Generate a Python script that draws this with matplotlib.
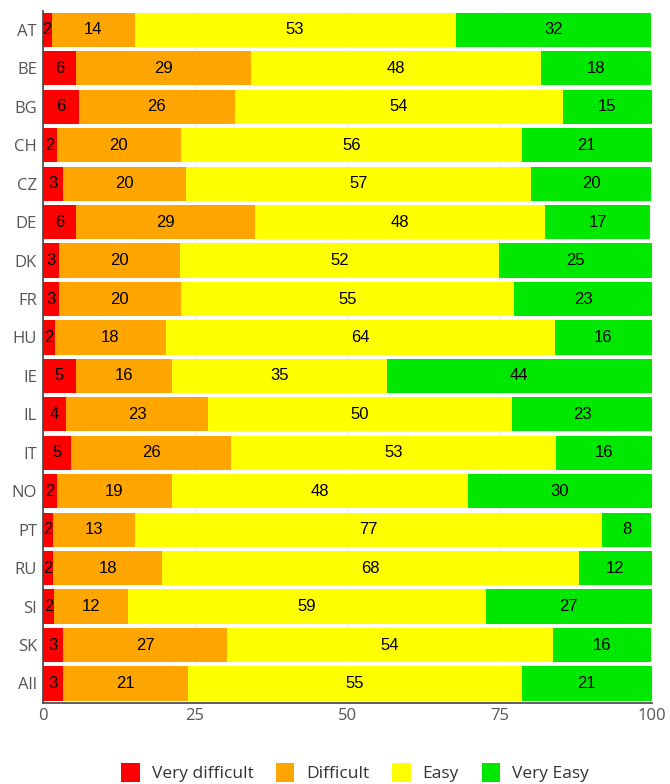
import numpy as np
import matplotlib
matplotlib.use("Agg")
import matplotlib.pyplot as plt
from matplotlib.patches import Patch

countries = ["AT", "BE", "BG", "CH", "CZ", "DE", "DK", "FR", "HU",
             "IE", "IL", "IT", "NO", "PT", "RU", "SI", "SK", "All"]
very_difficult = [1.5, 5.5, 6.0, 2.3, 3.3, 5.5, 2.6, 2.6, 2.0,
                  5.4, 3.9, 4.6, 2.3, 1.7, 1.7, 1.9, 3.4, 3.3]
difficult = [13.6, 28.7, 25.5, 20.4, 20.3, 29.4, 20.0, 20.1, 18.2,
             15.9, 23.2, 26.4, 19.0, 13.4, 17.9, 12.1, 26.9, 20.6]
easy = [52.7, 47.7, 53.9, 56.0, 56.6, 47.6, 52.3, 54.7, 63.9,
        35.2, 50.0, 53.3, 48.5, 76.7, 68.5, 58.8, 53.5, 54.8]
very_easy = [32.1, 18.0, 14.6, 21.3, 19.7, 17.3, 25.1, 22.7, 15.9,
             43.5, 22.9, 15.7, 30.2, 8.1, 11.9, 27.2, 16.1, 21.3]

series = [("Very difficult", very_difficult, "#ff0000"),
          ("Difficult", difficult, "#ffa500"),
          ("Easy", easy, "#ffff00"),
          ("Very Easy", very_easy, "#00e800")]

fig = plt.figure(figsize=(6.7, 7.84), dpi=100)
ax = fig.add_axes([0.0637, 0.1037, 0.909, 0.8827])

y = np.arange(len(countries))
left = np.zeros(len(countries))
for name, vals, col in series:
    vals = np.array(vals)
    ax.barh(y, vals, left=left, height=0.89, color=col, edgecolor="none", zorder=2)
    for yi, l, v in zip(y, left, vals):
        ax.text(l + v / 2, yi, f"{v:.0f}", ha="center", va="center",
                fontsize=12, color="black", family="Liberation Sans", zorder=3)
    left += vals

ax.set_xlim(0, 100)
ax.set_ylim(len(countries) - 0.5, -0.5)
ax.set_yticks(y)
ax.set_yticklabels(countries)
ax.set_xticks([0, 25, 50, 75, 100])
ax.tick_params(length=0, labelsize=12, colors="#555555", pad=4)
for lab in ax.get_xticklabels() + ax.get_yticklabels():
    lab.set_family("Open Sans")
ax.xaxis.grid(True, color="#eeeeee", lw=0.8, zorder=0)
for s in ["top", "right"]:
    ax.spines[s].set_visible(False)
for s in ["left", "bottom"]:
    ax.spines[s].set_color("#444444")
    ax.spines[s].set_linewidth(1.2)

handles = [Patch(facecolor=c, edgecolor="none", label=n) for n, _, c in series]
leg = fig.legend(handles=handles, loc="lower center", ncol=4, frameon=False,
                 bbox_to_anchor=(0.53, -0.018), handlelength=1.05, handleheight=1.3,
                 handletextpad=0.7, columnspacing=1.3,
                 prop={"family": "Open Sans", "size": 12.5})
for t in leg.get_texts():
    t.set_color("#333333")

plt.savefig("out.png", dpi=100)
